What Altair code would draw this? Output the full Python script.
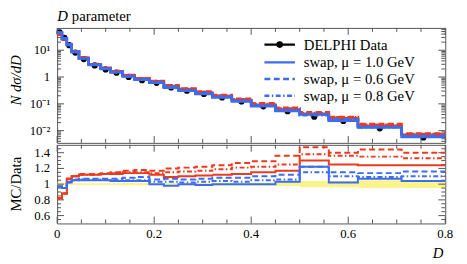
import altair as alt
import pandas as pd

# ---------------- data ----------------
edges = [0, .01, .02, .03, .045, .065, .09, .11, .135, .16, .19, .22, .25,
         .285, .32, .36, .40, .45, .50, .56, .62, .71, .80]
data_vals = [46, 29, 15.5, 8.2, 4.7, 2.7, 1.92, 1.45, 1.01, 0.76, 0.61, 0.41,
             0.31, 0.235, 0.173, 0.123, 0.081, 0.053, 0.033, 0.023, 0.0122, 0.0056]
data_err = [0.02, 0.015, 0.012, 0.012, 0.012, 0.012, 0.012, 0.012, 0.015, 0.015,
            0.015, 0.015, 0.015, 0.015, 0.02, 0.02, 0.02, 0.025, 0.04, 0.04, 0.05, 0.05]

# MC / Data ratios
red_solid = [0.82, 0.88, 1.07, 1.10, 1.12, 1.12, 1.13, 1.13, 1.14, 1.14, 1.12, 1.09,
             1.10, 1.11, 1.12, 1.13, 1.15, 1.17, 1.30, 1.25, 1.24, 1.24]
red_dash = [0.82, 0.88, 1.07, 1.10, 1.13, 1.13, 1.14, 1.15, 1.17, 1.18, 1.17, 1.20,
            1.21, 1.22, 1.24, 1.27, 1.29, 1.36, 1.47, 1.40, 1.44, 1.40]
red_dashdot = [0.82, 0.88, 1.07, 1.10, 1.12, 1.12, 1.13, 1.14, 1.15, 1.15, 1.14, 1.15,
               1.16, 1.17, 1.19, 1.21, 1.22, 1.25, 1.38, 1.36, 1.35, 1.33]
blue_solid = [0.97, 0.95, 1.02, 1.05, 1.05, 1.05, 1.05, 1.04, 1.04, 1.04, 1.00, 0.98,
              1.00, 0.99, 1.00, 1.00, 1.00, 1.03, 1.22, 1.02, 1.07, 1.04]
blue_dash = [0.97, 0.95, 1.03, 1.06, 1.07, 1.07, 1.07, 1.07, 1.08, 1.09, 1.06, 1.07,
             1.06, 1.07, 1.08, 1.08, 1.10, 1.12, 1.22, 1.15, 1.14, 1.16]
blue_dashdot = [0.97, 0.95, 1.02, 1.05, 1.06, 1.06, 1.06, 1.05, 1.05, 1.05, 1.03, 1.03,
                1.02, 1.03, 1.04, 1.03, 1.05, 1.06, 1.15, 1.10, 1.09, 1.10]

legend_labels = ["DELPHI Data", "swap, μ = 1.0 GeV", "swap, μ = 0.6 GeV", "swap, μ = 0.8 GeV"]
x_major = [0, 0.2, 0.4, 0.6, 0.8]
x_labels = ["0", "0.2", "0.4", "0.6", "0.8"]
x_minor = [0.05, 0.1, 0.15, 0.25, 0.3, 0.35, 0.45, 0.5, 0.55, 0.65, 0.7, 0.75]
y_major = [0.01, 0.1, 1, 10]
y_labels = ["10⁻²", "10⁻¹", "1", "10¹"]
y_minor = [m * d for d in [0.001, 0.01, 0.1, 1, 10] for m in range(2, 10)]
r_major = [0.6, 0.8, 1.0, 1.2, 1.4]
r_labels = ["0.6", "0.8", "1", "1.2", "1.4"]
r_minor = [0.55, 0.65, 0.7, 0.75, 0.85, 0.9, 0.95, 1.05, 1.1, 1.15, 1.25, 1.3, 1.35, 1.45]

# ---------------- styling ----------------
W, H1, H2 = 395, 117, 80
FONT = "Liberation Serif"
BLUE = "#3c6cf0"
RED = "#ec3a1e"
FRAME = "#555555"
DASH = [6, 3.5]
DASHDOT = [5, 2.5, 1.5, 2.5]
LBL = 13

series = [
    ("red_solid", red_solid, RED, [1, 0]),
    ("red_dash", red_dash, RED, DASH),
    ("red_dashdot", red_dashdot, RED, DASHDOT),
    ("blue_solid", blue_solid, BLUE, [1, 0]),
    ("blue_dash", blue_dash, BLUE, DASH),
    ("blue_dashdot", blue_dashdot, BLUE, DASHDOT),
]

xs = alt.Scale(domain=[0, 0.8], nice=False, zero=False)
ys_main = alt.Scale(type="log", domain=[0.0035, 68], nice=False)
ys_ratio = alt.Scale(domain=[0.5, 1.5], nice=False, zero=False)


def X(field):
    return alt.X(field, scale=xs, axis=None)


def Y(field, scale):
    return alt.Y(field, scale=scale, axis=None)


def step_df(vals, scale_by=None):
    rows = []
    for i, v in enumerate(vals):
        val = v * scale_by[i] if scale_by is not None else v
        rows.append({"x": edges[i], "y": val})
    last = vals[-1] * scale_by[-1] if scale_by is not None else vals[-1]
    rows.append({"x": edges[-1], "y": last})
    return pd.DataFrame(rows)


def ticks_x(height):
    layers = []
    for vals, ln in ((x_major, 7), (x_minor, 4)):
        base = alt.Chart(pd.DataFrame({"v": vals})).mark_rule(color=FRAME, strokeWidth=1)
        layers.append(base.encode(x=X("v:Q"), y=alt.value(height), y2=alt.value(height - ln)))
        layers.append(base.encode(x=X("v:Q"), y=alt.value(0), y2=alt.value(ln)))
    return layers


def ticks_y(vmaj, vmin, scale):
    layers = []
    for vals, ln in ((vmaj, 7), (vmin, 4)):
        base = alt.Chart(pd.DataFrame({"v": vals})).mark_rule(color=FRAME, strokeWidth=1)
        layers.append(base.encode(y=Y("v:Q", scale), x=alt.value(0), x2=alt.value(ln)))
        layers.append(base.encode(y=Y("v:Q", scale), x=alt.value(W - ln), x2=alt.value(W)))
    return layers


def ylabels(vals, labels, scale):
    df = pd.DataFrame({"v": vals, "t": labels})
    return alt.Chart(df).mark_text(font=FONT, fontSize=LBL, align="right",
                                   baseline="middle", color="black").encode(
        y=Y("v:Q", scale), x=alt.value(-7), text="t:N")


def txt(s, x, y, size=15, italic=False, angle=0, align="left", baseline="alphabetic"):
    kw = dict(font=FONT, fontSize=size, align=align, baseline=baseline, color="black")
    if italic:
        kw["fontStyle"] = "italic"
    if angle:
        kw["angle"] = angle
    return alt.Chart(pd.DataFrame({"t": [s]})).mark_text(**kw).encode(
        x=alt.value(x), y=alt.value(y), text="t:N")


# ---------------- main panel ----------------
centers = [(edges[i] + edges[i + 1]) / 2 for i in range(len(data_vals))]
df_data = pd.DataFrame({"x": centers, "y": data_vals})

main_layers = [
    alt.Chart(df_data).mark_point(filled=True, color="black", size=40, opacity=1).encode(
        x=X("x:Q"), y=Y("y:Q", ys_main))
]
main_layers += ticks_y(y_major, [v for v in y_minor if 0.0035 <= v <= 68], ys_main)
main_layers += ticks_x(H1)
main_layers.append(ylabels(y_major, y_labels, ys_main))

for name, vals, col, dash in series:
    main_layers.append(
        alt.Chart(step_df(vals, data_vals)).mark_line(
            interpolate="step-after", color=col, strokeWidth=2.6, strokeDash=dash
        ).encode(x=X("x:Q"), y=Y("y:Q", ys_main))
    )

# legend
LX1, LX2, LT = 211, 242, 251
rows_y = [17, 35, 52, 69]
leg_styles = [("black", [1, 0]), (BLUE, [1, 0]), (BLUE, DASH), (BLUE, DASHDOT)]
for i, (lab, (col, dash)) in enumerate(zip(legend_labels, leg_styles)):
    ldf = pd.DataFrame({"t": [lab]})
    main_layers.append(alt.Chart(ldf).mark_rule(color=col, strokeWidth=2.4, strokeDash=dash).encode(
        x=alt.value(LX1), x2=alt.value(LX2), y=alt.value(rows_y[i])))
    main_layers.append(txt(lab, LT, rows_y[i], size=15, baseline="middle"))
main_layers.append(alt.Chart(pd.DataFrame({"t": ["x"]})).mark_point(
    filled=True, color="black", size=45, opacity=1).encode(
    x=alt.value((LX1 + LX2) / 2), y=alt.value(rows_y[0])))

# titles
main_layers.append(txt("D", 0, -19, size=15, italic=True, baseline="top"))
main_layers.append(txt("parameter", 15, -19, size=15, baseline="top"))
main_layers.append(txt("N dσ/dD", -42, H1 / 2 - 5, size=15, italic=True, angle=270,
                       align="center", baseline="middle"))

main = alt.layer(*main_layers).properties(width=W, height=H1)

# ---------------- ratio panel ----------------
df_band = pd.DataFrame({"x": edges[:-1], "x2": edges[1:],
                        "lo": [1 - e for e in data_err], "hi": [1 + e for e in data_err]})
ratio_layers = [
    alt.Chart(df_band).mark_rect(color="#f7f26e", opacity=0.8).encode(
        x=X("x:Q"), x2="x2:Q", y=Y("lo:Q", ys_ratio), y2="hi:Q")
]
ratio_layers += ticks_y(r_major, r_minor, ys_ratio)
ratio_layers += ticks_x(H2)
ratio_layers.append(ylabels(r_major, r_labels, ys_ratio))
ratio_layers.append(
    alt.Chart(pd.DataFrame({"v": x_major, "t": x_labels})).mark_text(
        font=FONT, fontSize=LBL, align="center", baseline="top", color="black").encode(
        x=X("v:Q"), y=alt.value(H2 + 5), text="t:N"))
for name, vals, col, dash in series:
    ratio_layers.append(
        alt.Chart(step_df(vals)).mark_line(
            interpolate="step-after", color=col, strokeWidth=2.0, strokeDash=dash, clip=True
        ).encode(x=X("x:Q"), y=Y("y:Q", ys_ratio))
    )
ratio_layers.append(txt("MC/Data", -42, H2 / 2, size=15, angle=270,
                        align="center", baseline="middle"))
ratio_layers.append(txt("D", W - 2, H2 + 35, size=15, italic=True, align="right"))

ratio = alt.layer(*ratio_layers).properties(width=W, height=H2)

chart = alt.vconcat(main, ratio, spacing=0).properties(
    padding={"left": 0, "top": -2, "right": 5, "bottom": 0}
).configure_view(stroke=FRAME, strokeWidth=1)

chart.save("out.html", embed_options={"renderer": "svg", "actions": False})
